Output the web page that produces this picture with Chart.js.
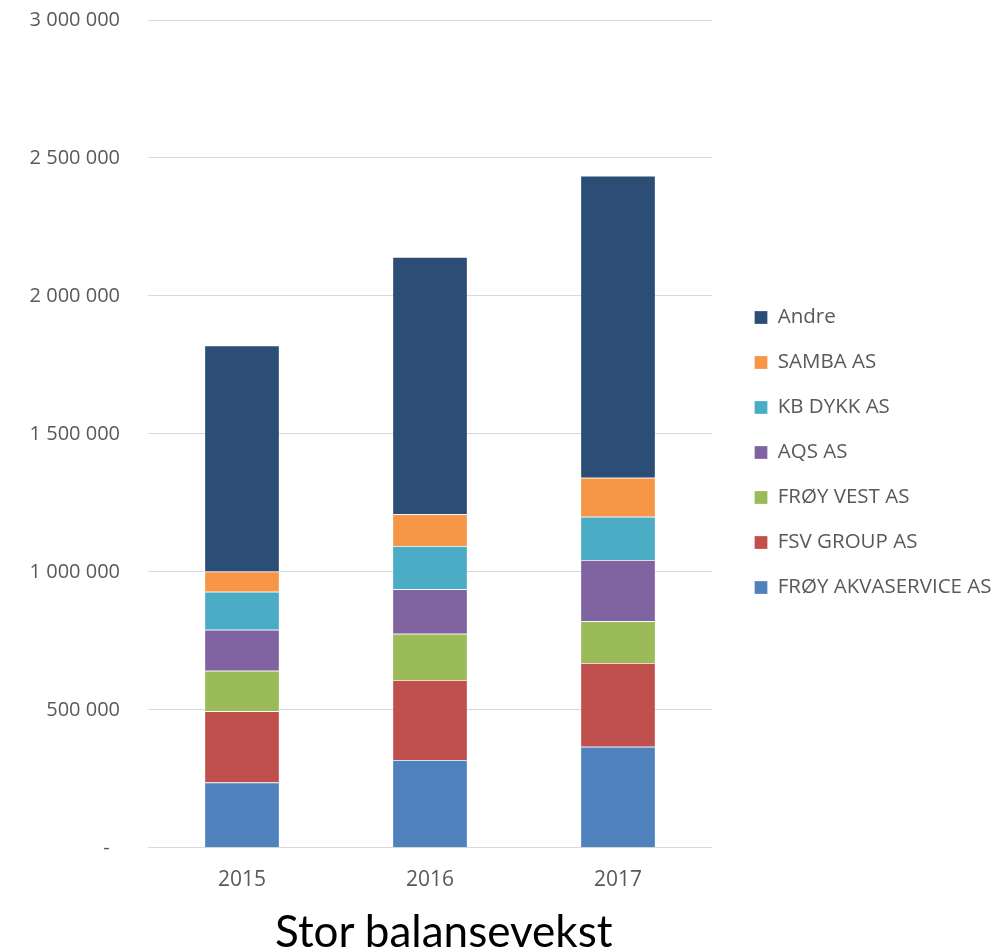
<!DOCTYPE html>
<html>
<head>
<meta charset="utf-8">
<script src="https://cdn.jsdelivr.net/npm/chart.js@4.4.1/dist/chart.umd.min.js"></script>
<style>
  html, body { margin: 0; padding: 0; background: #ffffff; }
  #wrap { position: relative; width: 997px; height: 949px; overflow: hidden; }
  #c { position: absolute; left: 0; top: 0; }
  #title { position: absolute; left: 275px; top: 908px; font-family: Lato, sans-serif; font-size: 44px; line-height: 1; color: #000; white-space: nowrap; }
</style>
</head>
<body>
<div id="wrap">
  <canvas id="c" width="997" height="949"></canvas>
  <div id="title">Stor balansevekst</div>
</div>
<script>
const categories = ['2015', '2016', '2017'];
const seriesNames = ['FRØY AKVASERVICE AS', 'FSV GROUP AS', 'FRØY VEST AS', 'AQS AS', 'KB DYKK AS', 'SAMBA AS', 'Andre'];
const froyAkvaservice = [237000, 318000, 366000];
const fsvGroup = [258000, 290000, 304000];
const froyVest = [147000, 168000, 151000];
const aqs = [148000, 161000, 222000];
const kbDykk = [138000, 157000, 157000];
const samba = [73000, 115000, 141000];
const andre = [819000, 932000, 1095000];
const seriesColors = ['#4F81BD', '#C0504D', '#9BBB59', '#8064A2', '#4BACC6', '#F79646', '#2C4D75'];
const yTickMin = 0, yTickMax = 3000000, yTickStep = 500000;

const seriesValues = [froyAkvaservice, fsvGroup, froyVest, aqs, kbDykk, samba, andre];

function fmt(v) {
  if (v === 0) return '-  ';
  return String(v).replace(/\B(?=(\d{3})+(?!\d))/g, ' ');
}

const legendFix = {
  id: 'legendFix',
  beforeLayout(chart) {
    const lg = chart.legend;
    if (lg && !lg._patched) {
      const orig = lg.fit.bind(lg);
      lg.fit = function () { orig(); this.width = 285; };
      lg._patched = true;
    }
  },
  afterLayout(chart) {
    const lg = chart.legend;
    if (lg) {
      const dx = 730 - lg.left;
      lg.left += dx; lg.right += dx;
      lg.top -= 14; lg.bottom -= 14;
    }
  }
};

new Chart(document.getElementById('c'), {
  type: 'bar',
  data: {
    labels: categories,
    datasets: seriesNames.map((n, i) => ({
      label: n,
      data: seriesValues[i],
      backgroundColor: seriesColors[i],
      borderColor: 'rgba(255,255,255,0.35)',
      borderWidth: 0.75,
      barPercentage: 0.4,
      categoryPercentage: 1.0
    }))
  },
  options: {
    responsive: false,
    animation: false,
    devicePixelRatio: 1,
    layout: { padding: { top: 20, left: 0, right: 0, bottom: 36 } },
    scales: {
      x: {
        stacked: true,
        grid: { display: false, drawTicks: false },
        border: { display: false },
        ticks: { padding: 20, color: '#595959', font: { family: 'Open Sans', size: 21 } }
      },
      y: {
        stacked: true,
        min: yTickMin, max: yTickMax,
        afterFit(scale) { scale.width = 148; scale.paddingTop = 0; scale.paddingBottom = 0; },
        grid: { color: '#D9D9D9', lineWidth: 1, drawTicks: false },
        border: { display: false },
        ticks: {
          stepSize: yTickStep,
          padding: 28,
          color: '#595959',
          font: { family: 'Open Sans', size: 20 },
          callback: (v) => fmt(v)
        }
      }
    },
    plugins: {
      legend: {
        position: 'right',
        reverse: true,
        labels: {
          boxWidth: 13, boxHeight: 13, padding: 24.5,
          color: '#595959',
          font: { family: 'Open Sans', size: 20.5 }
        }
      },
      tooltip: { enabled: false },
      title: { display: false }
    }
  },
  plugins: [legendFix]
});
</script>
</body>
</html>
